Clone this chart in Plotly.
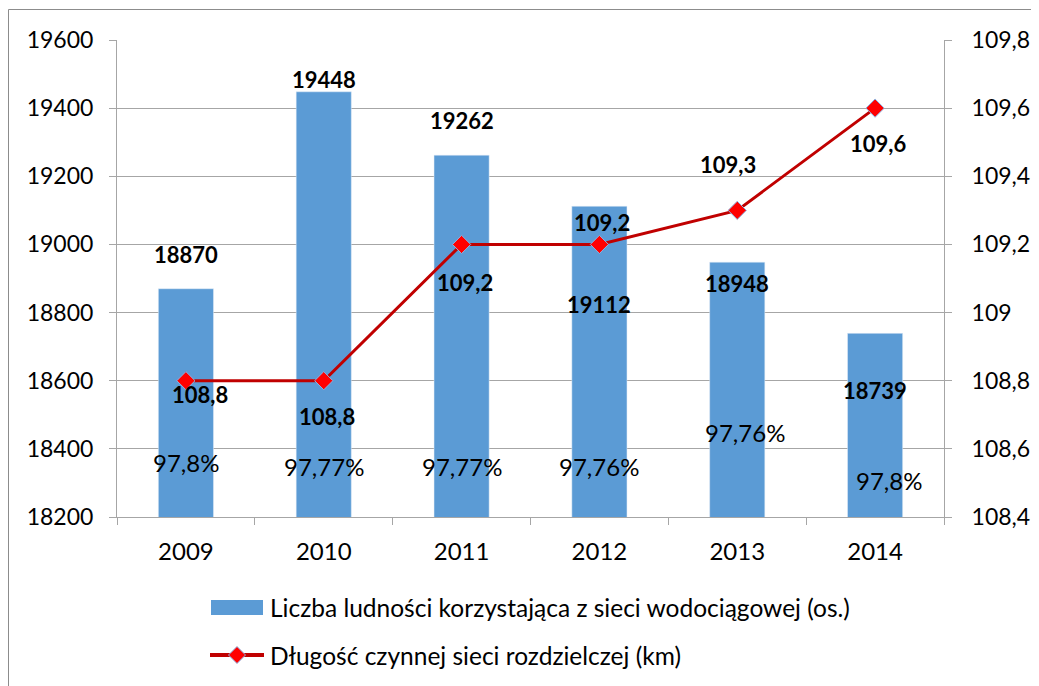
import plotly.graph_objects as go

years = ["2009", "2010", "2011", "2012", "2013", "2014"]
population = [18870, 19448, 19262, 19112, 18948, 18739]
network_km = [108.8, 108.8, 109.2, 109.2, 109.3, 109.6]
pct_served = ["97,8%", "97,77%", "97,77%", "97,76%", "97,76%", "97,8%"]

bar_name = "Liczba ludności korzystająca z sieci wodociągowej (os.)"
line_name = "Długość czynnej sieci rozdzielczej (km)"

# label pixel offsets (styling)
bar_lbl_shift = [34, 12, 35, -98, -21, -57]
line_lbl_shift = [(14, -14), (3, -36), (3, -38), (3, 22), (-9, 46), (3, -35)]
pct_lbl_shift = [(0, 55), (0, 51), (0, 51), (0, 51), (8, 85), (14, 37)]

FONT = "Lato, 'Open Sans', sans-serif"
BLUE = "#5B9BD5"
RED = "#C00000"
MRED = "#FF0000"
MEDGE = "#8DB4E2"
GRID = "#A6A6A6"

xpos = list(range(len(years)))

fig = go.Figure()
fig.add_trace(go.Bar(x=xpos, y=population, name=bar_name, marker_color=BLUE,
                     width=0.4, yaxis="y"))
fig.add_trace(go.Scatter(x=xpos, y=network_km, name=line_name, yaxis="y2",
                         mode="lines+markers",
                         line=dict(color=RED, width=3),
                         marker=dict(symbol="diamond", size=14, color=MRED,
                                     line=dict(color=MEDGE, width=1))))

ann = []
for i in xpos:
    ann.append(dict(x=i, y=population[i], xref="x", yref="y", text=f"<b>{population[i]}</b>",
                    showarrow=False, yshift=bar_lbl_shift[i],
                    font=dict(family=FONT, size=22, color="#000")))
    dx, dy = line_lbl_shift[i]
    ann.append(dict(x=i, y=network_km[i], xref="x", yref="y2",
                    text="<b>" + f"{network_km[i]:.1f}".replace(".", ",") + "</b>",
                    showarrow=False, xshift=dx, yshift=dy,
                    font=dict(family=FONT, size=22, color="#000")))
    px, py = pct_lbl_shift[i]
    ann.append(dict(x=i, y=18200, xref="x", yref="y", text=pct_served[i],
                    showarrow=False, xshift=px, yshift=py,
                    font=dict(family=FONT, size=24, color="#000")))

OFF = 8  # page offset of the plot div
W, H = 1031, 678
L, R, T, B = 109, 95, 32, 169
pw, ph = W - L - R, H - T - B
def sx(v): return (v - OFF - L) / pw
def sy(v): return (H - B - (v - OFF)) / ph

shapes = [
    dict(type="rect", xref="paper", yref="paper",
         x0=sx(8.5), x1=sx(1060), y0=sy(9.5), y1=sy(720),
         line=dict(color="#8C8C8C", width=1), fillcolor="rgba(0,0,0,0)", layer="below"),
    # legend: bar swatch
    dict(type="rect", xref="paper", yref="paper",
         x0=sx(211), x1=sx(263), y0=sy(615), y1=sy(600),
         line=dict(width=0), fillcolor=BLUE),
    # legend: line swatch
    dict(type="line", xref="paper", yref="paper",
         x0=sx(210), x1=sx(264), y0=sy(655), y1=sy(655),
         line=dict(color=RED, width=4)),
    # legend: diamond marker
    dict(type="path", xref="paper", yref="paper",
         path=(f"M {sx(237)} {sy(646.5)} L {sx(245.5)} {sy(655)} "
               f"L {sx(237)} {sy(663.5)} L {sx(228.5)} {sy(655)} Z"),
         fillcolor=MRED, line=dict(color=MEDGE, width=1)),
]
ann.append(dict(xref="paper", yref="paper", x=sx(268), y=sy(607), xanchor="left",
                yanchor="middle", text=bar_name, showarrow=False,
                font=dict(family=FONT, size=24.5, color="#000")))
ann.append(dict(xref="paper", yref="paper", x=sx(268), y=sy(656), xanchor="left",
                yanchor="middle", text=line_name, showarrow=False,
                font=dict(family=FONT, size=24.5, color="#000")))

fig.update_layout(
    width=W, height=H,
    margin=dict(l=L, r=R, t=T, b=B, autoexpand=False),
    paper_bgcolor="white", plot_bgcolor="white",
    font=dict(family=FONT, size=22, color="#000"),
    showlegend=False,
    xaxis=dict(range=[-0.5, len(years) - 0.5], showgrid=False, zeroline=False,
               showline=True, linecolor=GRID, linewidth=1, automargin=False,
               tickvals=xpos, ticktext=years, ticks="", tickangle=0,
               tickfont=dict(size=24), ticklabelstandoff=13,
               minor=dict(tickvals=[i - 0.5 for i in range(len(years) + 1)],
                          ticks="outside", ticklen=7, tickcolor=GRID, showgrid=False)),
    yaxis=dict(range=[18200, 19600], dtick=200, tickformat="d", showgrid=True,
               gridcolor=GRID, gridwidth=1, automargin=False,
               showline=True, linecolor=GRID, ticks="outside", ticklen=7, tickcolor=GRID,
               tickfont=dict(size=23), zeroline=False, ticklabelstandoff=11),
    yaxis2=dict(range=[108.4, 109.8], overlaying="y", side="right", showgrid=False,
                showline=True, linecolor=GRID, ticks="outside", ticklen=7, tickcolor=GRID,
                tickfont=dict(size=23), zeroline=False, ticklabelstandoff=15, automargin=False,
                tickvals=[108.4, 108.6, 108.8, 109.0, 109.2, 109.4, 109.6, 109.8],
                ticktext=["108,4", "108,6", "108,8", "109", "109,2", "109,4", "109,6", "109,8"]),
    annotations=ann,
    shapes=shapes,
)

fig.write_html("out.html")
